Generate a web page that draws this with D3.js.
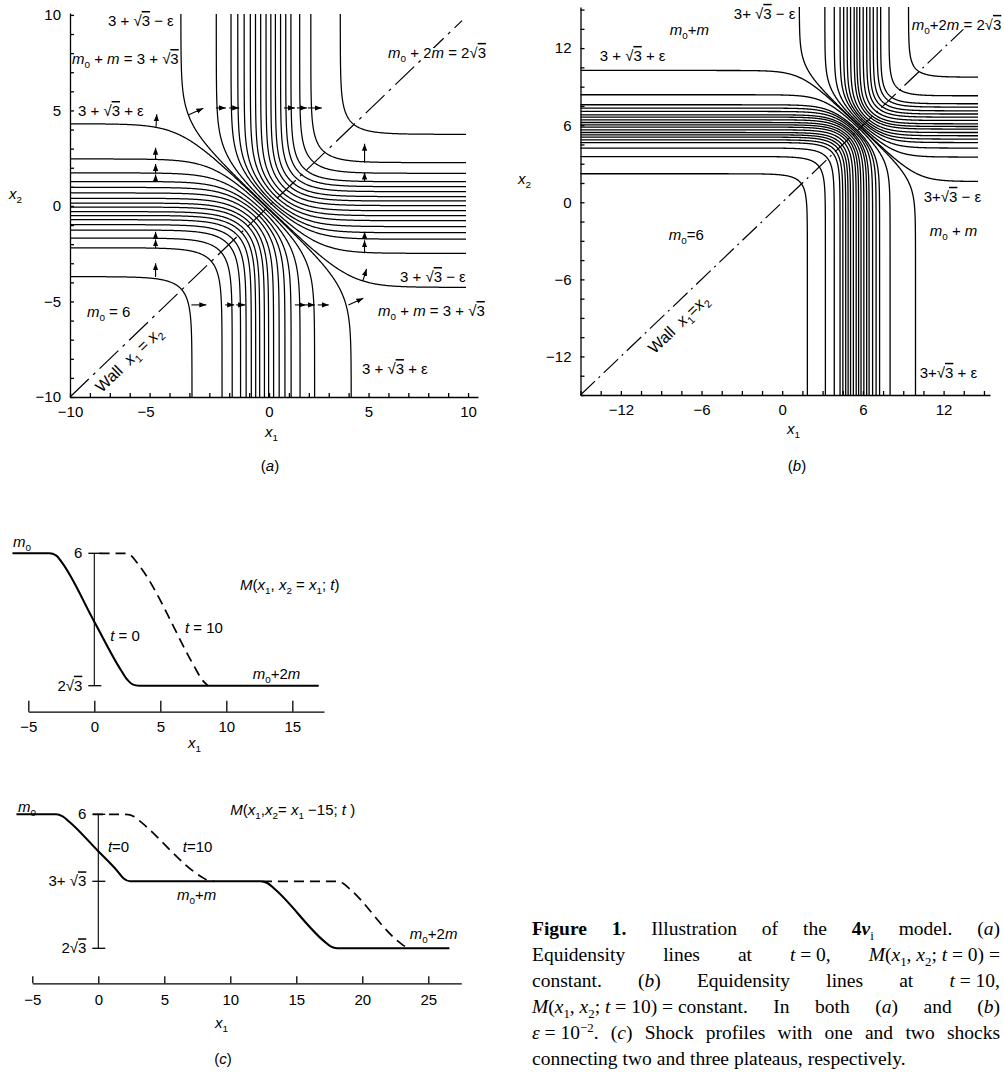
<!DOCTYPE html>
<html>
<head>
<meta charset="utf-8">
<title>4v model: equidensity lines and shock profiles</title>
<script src="https://d3js.org/d3.v7.min.js"></script>
<style>
  body { margin: 0; background: #fff; }
  svg { display: block; }
  .lbl { font-family: "Liberation Sans Narrow", "Liberation Sans", Arial, sans-serif; font-size: 15px; fill: #000; }
  .cap { font-family: "Liberation Serif", "Times New Roman", serif; font-size: 19.5px; fill: #000; }
</style>
</head>
<body>
<svg id="fig" width="1004" height="1072"></svg>
<script>
// ---------- values ----------
// (a) t = 0 : height x2 at which each equidensity line runs flat at the far left (lines bending down)
const t0LeftLevels  = [-3.7, -2.19, -1.68, -1.26, -0.98, -0.72, -0.5, -0.3, -0.06, 0.15, 0.4, 0.68, 0.97, 1.28, 1.73, 2.46, 4.3];
// ... and at the far right (lines coming from the top)
const t0RightLevels = [-4.26, -2.48, -1.74, -1.4, -1.08, -0.77, -0.51, -0.25, 0.02, 0.26, 0.49, 0.75, 1.01, 1.27, 1.71, 2.27, 3.75];
// (b) t = 10
const t10LeftLevels  = [2.22, 3.56, 4.22, 4.65, 4.86, 5.07, 5.25, 5.43, 5.64, 5.85, 6.03, 6.21, 6.42, 6.63, 6.81, 7.07, 7.33, 7.59, 8.37, 10.26];
const t10RightLevels = [1.62, 3.52, 4.22, 4.65, 4.92, 5.18, 5.43, 5.7, 5.9, 6.11, 6.37, 6.63, 6.87, 7.12, 7.41, 7.67, 8.29, 9.74];

// arrows drawn on (a): [x1, x2, x1 end, x2 end]
const t0Arrows = [
  [-5.68, 4.15, -5.64, 4.8], [-5.7, 2.42, -5.7, 3.05], [-5.7, 1.71, -5.7, 2.2], [-5.7, 1.27, -5.7, 1.65],
  [-5.7, -1.69, -5.7, -1.35], [-5.7, -2.21, -5.7, -1.75], [-5.7, -3.72, -5.7, -3.0],
  [4.8, 2.27, 4.8, 3.25], [4.8, 1.27, 4.8, 1.75], [4.8, -1.74, 4.8, -1.35], [4.8, -2.48, 4.8, -1.8],
  [4.72, -3.9, 4.9, -3.3],
  [-3.9, -5.18, -3.15, -5.18], [-2.2, -5.18, -1.75, -5.18], [-1.65, -5.18, -1.2, -5.18],
  [1.3, -5.18, 1.85, -5.18], [1.85, -5.18, 2.3, -5.18], [2.45, -5.18, 3.0, -5.18],
  [3.99, -5.18, 4.74, -4.83],
  [-4.06, 4.76, -3.3, 5.11], [-2.67, 5.13, -2.17, 5.13], [-2.0, 5.13, -1.5, 5.13],
  [0.75, 5.13, 1.3, 5.13], [1.4, 5.13, 1.9, 5.13], [1.95, 5.13, 2.65, 5.13]
];

// (c) profiles M along x2 = x1
const diagX_t0  = [-6.2, -3.4, -2.9, -2.5, 0, 2.0, 2.5, 2.9, 3.4, 17.0];
const diagM_t0  = [6, 6, 5.96, 5.84, 4.69, 3.77, 3.58, 3.49, 3.464, 3.464];
const diagX_t10 = [0.4, 2.3, 2.8, 3.3, 7.6, 8.1, 8.6];
const diagM_t10 = [6, 6, 5.95, 5.8, 3.82, 3.6, 3.464];
// (c) profiles M along x2 = x1 - 15
const offX_t0   = [-6.2, -3.2, -2.7, -2.2, 0, 1.4, 1.9, 2.4, 12.3, 12.8, 13.3, 17.1, 17.6, 18.1, 26.6];
const offM_t0   = [6, 6, 5.96, 5.86, 5.3, 4.94, 4.79, 4.732, 4.732, 4.7, 4.6, 3.6, 3.5, 3.464, 3.464];
const offX_t10a = [-0.4, 2.1, 2.7, 3.2, 7.8, 8.3, 8.8];
const offM_t10a = [6, 6, 5.96, 5.86, 4.82, 4.75, 4.732];
const offX_t10b = [12.4, 17.9, 18.5, 19.0, 22.6, 23.1, 23.6];
const offM_t10b = [4.732, 4.732, 4.7, 4.6, 3.62, 3.52, 3.464];

// tick labels
const ticksA  = [-10, -5, 0, 5, 10];
const ticksB  = [-12, -6, 0, 6, 12];
const ticksC1 = [-5, 0, 5, 10, 15];
const ticksC2 = [-5, 0, 5, 10, 15, 20, 25];
const mTicks1 = [6, 2 * Math.sqrt(3)];
const mLabels1 = ["6", "2√|3|"];
const mTicks2 = [6, 3 + Math.sqrt(3), 2 * Math.sqrt(3)];
const mLabels2 = ["6", "3+ √|3|", "2√|3|"];

const caption = [
  "*Figure* *1.* Illustration of the *4*#v#~i~ model. (_a_)",
  "Equidensity lines at _t_\u00a0=\u00a00, _M_(_x_~1~,\u00a0_x_~2~;\u00a0_t_\u00a0=\u00a00)\u00a0=",
  "constant. (_b_) Equidensity lines at _t_\u00a0=\u00a010,",
  "_M_(_x_~1~,\u00a0_x_~2~;\u00a0_t_\u00a0=\u00a010)\u00a0=\u00a0constant. In both (_a_) and (_b_)",
  "_ε_\u00a0=\u00a010^−2^. (_c_) Shock profiles with one and two shocks",
  "connecting two and three plateaus, respectively."
];

// ---------- helpers ----------
const svg = d3.select("#fig");
const defs = svg.append("defs");
const LBL_FONT = '"Liberation Sans Narrow", "Liberation Sans", Arial, sans-serif';
const fmt = d3.format("d");

defs.append("marker").attr("id", "head")
  .attr("viewBox", "0 0 10 10").attr("refX", 10).attr("refY", 5)
  .attr("markerWidth", 7).attr("markerHeight", 7).attr("markerUnits", "userSpaceOnUse")
  .attr("orient", "auto")
  .append("path").attr("d", "M0,1.2L10,5L0,8.8z").attr("fill", "#000");

// tiny markup: _it_  ~sub~  ^sup^  |overline|  *bold*  #bold italic#
function rich(t, str, size) {
  const parts = str.split(/(_[^_]+_|~[^~]+~|\^[^^]+\^|\|[^|]+\||\*[^*]+\*|#[^#]+#)/).filter(s => s.length);
  let base = 0;
  parts.forEach(p => {
    const k = p[0];
    const marked = p.length > 2 && "_~^|*#".includes(k) && p[p.length - 1] === k;
    const span = t.append("tspan").text(marked ? p.slice(1, -1) : p);
    let off = 0;
    if (marked && k === "~") off = 0.27 * size;
    if (marked && k === "^") off = -0.36 * size;
    if (off !== base) { span.attr("dy", off - base); base = off; }
    if (marked && (k === "~" || k === "^")) span.attr("font-size", 0.66 * size);
    if (marked && k === "_") span.attr("font-style", "italic");
    if (marked && k === "*") span.attr("font-weight", "bold");
    if (marked && k === "#") span.attr("font-weight", "bold").attr("font-style", "italic");
    if (marked && k === "|") span.style("text-decoration", "overline");
  });
  return t;
}

function label(g, x, y, str, opt = {}) {
  const t = g.append("text").attr("class", "lbl").attr("x", x).attr("y", y);
  if (opt.size) t.style("font-size", opt.size + "px");
  if (opt.anchor) t.attr("text-anchor", opt.anchor);
  if (opt.rotate) t.attr("transform", `rotate(${opt.rotate},${x},${y})`);
  if (opt.halo) t.attr("stroke", "#fff").attr("stroke-width", 4).attr("paint-order", "stroke");
  return rich(t, str, opt.size || 15);
}

function styleAxis(g) {
  g.attr("font-family", LBL_FONT).attr("font-size", 15);
  g.selectAll("path, line").attr("stroke-width", 1.3);
}

// smoothed shock front: density M = m0 + m (G(x1 - cx) + G(x2 - cy))
const FRONT = 1.7;
const G = u => 1 / (1 + Math.exp(-2 * u / FRONT));

// one equidensity line G1 + G2 = c, traced by splitting c between the two directions
function isoline(c, cx, cy) {
  const pts = [];
  for (let t = -26; t <= 26; t += 0.05) {
    const s = 1 / (1 + Math.exp(-t)), sc = 1 / (1 + Math.exp(t));
    let p1, q1, p2, q2;
    if (c < 1) { p1 = c * s; q1 = 1 - p1; p2 = c * sc; q2 = 1 - p2; }
    else { q1 = (2 - c) * sc; p1 = 1 - q1; q2 = (2 - c) * s; p2 = 1 - q2; }
    const x1 = cx + FRONT / 2 * Math.log(p1 / q1);
    const x2 = cy + FRONT / 2 * Math.log(p2 / q2);
    if (Math.abs(x1) < 60 && Math.abs(x2) < 60) pts.push([x1, x2]);
  }
  return pts;
}

function contourPanel(p) {
  const g = svg.append("g");
  const x = d3.scaleLinear().domain(p.xd).range(p.xr);
  const y = d3.scaleLinear().domain(p.yd).range(p.yr);
  defs.append("clipPath").attr("id", p.id).append("rect")
    .attr("x", p.clip[0]).attr("y", p.clip[1])
    .attr("width", p.clip[2] - p.clip[0]).attr("height", p.clip[3] - p.clip[1]);

  const lines = p.left.map(a => isoline(G(a - p.cy), p.cx, p.cy))
    .concat(p.right.map(b => isoline(1 + G(b - p.cy), p.cx, p.cy)));
  const line = d3.line().x(d => x(d[0])).y(d => y(d[1]));
  g.append("g").attr("clip-path", `url(#${p.id})`)
    .selectAll("path").data(lines).join("path")
    .attr("d", line).attr("fill", "none").attr("stroke", "#000").attr("stroke-width", p.sw);

  // the wall x1 = x2
  g.append("line")
    .attr("x1", x(p.xd[0])).attr("y1", y(p.xd[0]))
    .attr("x2", x(p.wallEnd)).attr("y2", y(p.wallEnd))
    .attr("stroke", "#000").attr("stroke-width", 1.2).attr("stroke-dasharray", p.dash);

  g.append("g").attr("transform", `translate(0,${y(p.yd[0])})`)
    .call(d3.axisBottom(x).tickValues(d3.range(p.xd[0], p.tickMax + 0.01, p.step))
      .tickSize(-4).tickSizeOuter(0).tickPadding(9)
      .tickFormat(d => p.ticks.some(v => Math.abs(v - d) < 1e-9) ? fmt(d) : ""))
    .call(styleAxis)
    .call(a => a.selectAll(".tick text").filter(d => d === p.shiftTick).attr("dx", p.shiftBy || 0));
  g.append("g").attr("transform", `translate(${x(p.xd[0])},0)`)
    .call(d3.axisLeft(y).tickValues(d3.range(p.yd[0], p.tickMax + 0.01, p.step))
      .tickSize(-4).tickSizeOuter(0).tickPadding(9)
      .tickFormat(d => p.ticks.some(v => Math.abs(v - d) < 1e-9) ? fmt(d) : ""))
    .call(styleAxis);
  return { g, x, y };
}

// ---------- (a) ----------
const A = contourPanel({
  id: "clipA", xd: [-10, 10.5], xr: [70, 478], yd: [-10, 10.1], yr: [397, 13],
  clip: [70, 14, 466, 397], cx: -0.17, cy: 0, left: t0LeftLevels, right: t0RightLevels,
  sw: 1.25, wallEnd: 9.7, dash: "26,6,3,6", step: 1, tickMax: 10, ticks: ticksA,
  shiftTick: -5, shiftBy: -24
});
A.g.append("g").selectAll("line").data(t0Arrows).join("line")
  .attr("x1", d => A.x(d[0])).attr("y1", d => A.y(d[1]))
  .attr("x2", d => A.x(d[2])).attr("y2", d => A.y(d[3]))
  .attr("stroke", "#000").attr("stroke-width", 1.1).attr("marker-end", "url(#head)");

label(A.g, A.x(-8.09), A.y(9.42), "3 + √|3| − ε");
label(A.g, A.x(-9.9), A.y(7.43), "_m_~0~ + _m_ = 3 + √|3|");
label(A.g, A.x(-9.6), A.y(4.71), "3 + √|3| + ε");
label(A.g, A.x(5.98), A.y(7.75), "_m_~0~ + 2_m_ = 2√|3|", { halo: true });
label(A.g, A.x(6.58), A.y(-3.98), "3 + √|3| − ε");
label(A.g, A.x(-9.15), A.y(-5.81), "_m_~0~ = 6");
label(A.g, A.x(5.48), A.y(-5.76), "_m_~0~ + _m_ = 3 + √|3|");
label(A.g, A.x(4.67), A.y(-8.8), "3 + √|3| + ε");
label(A.g, A.x(-8.4), A.y(-9.8), "Wall\u00a0\u00a0_x_~1~ = _x_~2~", { rotate: -44, size: 16 });
label(A.g, 9, 199, "_x_~2~");
label(A.g, 265, 437, "_x_~1~");
label(A.g, 270, 471, "(_a_)", { anchor: "middle" });

// ---------- (b) ----------
const B = contourPanel({
  id: "clipB", xd: [-15, 15.45], xr: [580.5, 990], yd: [-15, 15.2], yr: [395, 7],
  clip: [580.5, 7, 978, 395], cx: 5.65, cy: 6.0, left: t10LeftLevels, right: t10RightLevels,
  sw: 1.3, wallEnd: 13.5, dash: "20,5,2,5", step: 1.5, tickMax: 15, ticks: ticksB
});
label(B.g, B.x(-3.6), B.y(14.28), "3+ √|3| − ε");
label(B.g, B.x(-8.36), B.y(13.04), "_m_~0~+_m_");
label(B.g, B.x(-13.57), B.y(11.0), "3 + √|3| + ε");
label(B.g, B.x(9.63), B.y(13.42), "_m_~0~+2_m_ = 2√|3|", { halo: true });
label(B.g, B.x(10.52), B.y(0.04), "3+√|3| − ε");
label(B.g, B.x(10.97), B.y(-2.6), "_m_~0~ + _m_");
label(B.g, B.x(-8.44), B.y(-2.92), "_m_~0~=6");
label(B.g, B.x(10.22), B.y(-13.66), "3+√|3| + ε");
label(B.g, B.x(-9.5), B.y(-11.85), "Wall\u00a0\u00a0_x_~1~=_x_~2~", { rotate: -44, size: 16 });
label(B.g, 518, 184, "_x_~2~");
label(B.g, 787, 434, "_x_~1~");
label(B.g, 797, 471, "(_b_)", { anchor: "middle" });

// ---------- (c) ----------
function profilePanel(p) {
  const g = svg.append("g");
  const x = d3.scaleLinear().domain(p.xd).range(p.xr);
  const y = d3.scaleLinear().domain([2 * Math.sqrt(3), 6]).range(p.yr);
  g.append("g").attr("transform", `translate(0,${p.axisY})`)
    .call(d3.axisBottom(x).tickValues(p.ticks).tickSize(-p.tick).tickSizeOuter(0).tickPadding(p.pad).tickFormat(fmt))
    .call(styleAxis);
  const x0 = x(0);
  g.append("line").attr("x1", x0).attr("x2", x0)
    .attr("y1", y(6)).attr("y2", y(2 * Math.sqrt(3))).attr("stroke", "#000").attr("stroke-width", 1.1);
  g.selectAll(".mt").data(p.mTicks).join("line").attr("class", "mt")
    .attr("x1", x0 - 6).attr("x2", x0 + 7).attr("y1", d => y(d)).attr("y2", d => y(d))
    .attr("stroke", "#000").attr("stroke-width", 1.3);
  p.mTicks.forEach((m, i) => label(g, x0 - 12, y(m) + 5, p.mLabels[i], { anchor: "end" }));
  const line = d3.line().x(d => x(d[0])).y(d => y(d[1])).curve(d3.curveMonotoneX);
  p.curves.forEach(c => {
    g.append("path").datum(d3.zip(c[0], c[1])).attr("d", line)
      .attr("fill", "none").attr("stroke", "#000").attr("stroke-width", c[2] ? 1.7 : 2.1)
      .attr("stroke-dasharray", c[2] ? "10,6" : null);
  });
  return { g, x, y };
}

const C1 = profilePanel({
  xd: [-5, 17.4], xr: [28.3, 324], yr: [685.7, 553.3], axisY: 711.7, tick: 11, pad: 10,
  ticks: ticksC1, mTicks: mTicks1, mLabels: mLabels1,
  curves: [[diagX_t0, diagM_t0, false], [diagX_t10, diagM_t10, true]]
});
label(C1.g, C1.x(-6.16), C1.y(6.12), "_m_~0~");
label(C1.g, C1.x(11.04), C1.y(5.3), "_M_(_x_~1~, _x_~2~ = _x_~1~; _t_)");
label(C1.g, C1.x(6.87), C1.y(4.47), "_t_ = 10");
label(C1.g, C1.x(1.2), C1.y(4.32), "_t_ = 0");
label(C1.g, C1.x(12.0), C1.y(3.59), "_m_~0~+2_m_");
label(C1.g, 188, 748, "_x_~1~");

const C2 = profilePanel({
  xd: [-5, 27.5], xr: [32.3, 461.3], yr: [948.3, 814.3], axisY: 983.3, tick: 7, pad: 11,
  ticks: ticksC2, mTicks: mTicks2, mLabels: mLabels2,
  curves: [[offX_t0, offM_t0, false], [offX_t10a, offM_t10a, true], [offX_t10b, offM_t10b, true]]
});
label(C2.g, C2.x(-6.08), C2.y(6.04), "_m_~0~");
label(C2.g, C2.x(10.0), C2.y(5.98), "_M_(_x_~1~,_x_~2~= _x_~1~ −15; _t_ )");
label(C2.g, C2.x(0.73), C2.y(5.29), "_t_=0");
label(C2.g, C2.x(6.4), C2.y(5.29), "_t_=10");
label(C2.g, C2.x(5.96), C2.y(4.38), "_m_~0~+_m_");
label(C2.g, C2.x(23.6), C2.y(3.64), "_m_~0~+2_m_");
label(C2.g, 215, 1028, "_x_~1~");
label(C2.g, 223, 1064, "(_c_)", { anchor: "middle" });

// ---------- caption, justified ----------
const capG = svg.append("g");
const capLeft = 532, capRight = 1000;
caption.forEach((ln, i) => {
  const words = ln.split(" ");
  const yPos = 935 + i * 26;
  const nodes = words.map(w => rich(capG.append("text").attr("class", "cap").attr("y", yPos), w, 19.5));
  const widths = nodes.map(n => n.node().getComputedTextLength());
  const last = i === caption.length - 1;
  const gap = last ? 5 : (capRight - capLeft - d3.sum(widths)) / (words.length - 1);
  let xPos = capLeft;
  nodes.forEach((n, k) => { n.attr("x", xPos); xPos += widths[k] + gap; });
});
</script>
</body>
</html>
